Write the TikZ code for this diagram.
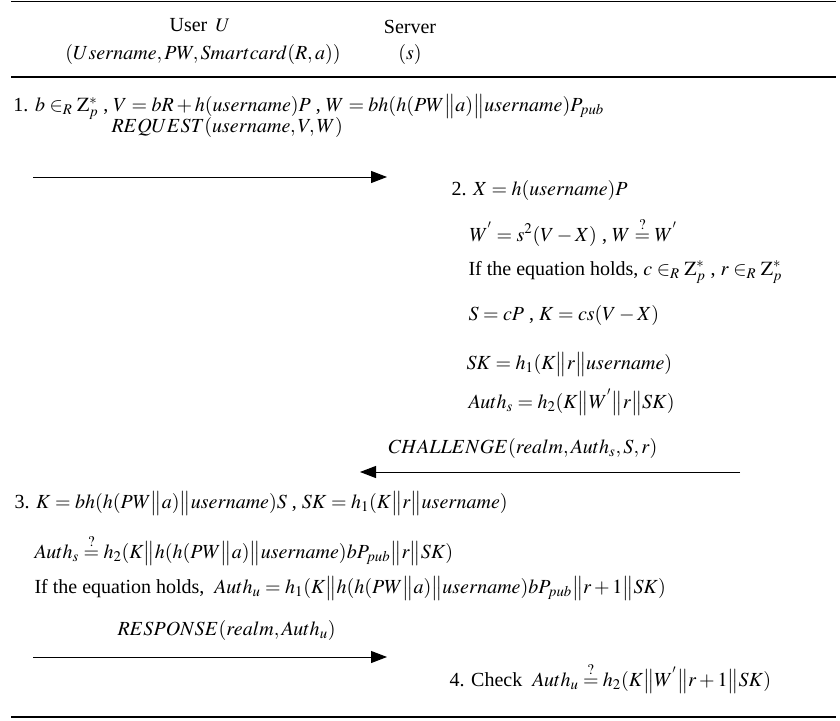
\documentclass[tikz,border=0pt]{standalone}
\usepackage{mathptmx}
\usepackage{fontspec}
\setmainfont{Liberation Serif}
\usetikzlibrary{arrows.meta}

\tikzset{every picture/.style={line width=0.75pt}}
\newcommand{\dbar}{{\big\|}}
\newcommand{\qeq}{\stackrel{?}{=}}

\begin{document}
\begin{tikzpicture}[x=0.75pt,y=0.75pt,yscale=-1,xscale=1,
  msg/.style={-{Triangle[length=12pt,width=9pt]}},
  rule/.style={line width=1.5pt},
  txt/.style={anchor=west,inner sep=0.75pt,font=\fontsize{15}{18}\selectfont},
  head/.style={inner sep=0.75pt,font=\fontsize{15}{18}\selectfont}]
\useasboundingbox (0,0) rectangle (840,721);

%Straight Lines [rules]
\draw [line width=0.75pt] (11,1.5) -- (836,1.5) ;
\draw [rule] (11,77) -- (836,77) ;
\draw [rule] (11,717) -- (836,717) ;

% Text Node
\node [head] (user) at (200,25) {User \,{\Large $U$}};
\node [head] (userdata) at (203,55) {$(Username,PW,Smartcard(R,a))$};
\node [head] (server) at (410,27) {Server};
\node [head] (serverdata) at (410,55) {$(s)$};

% Text Node
\node [txt] (step1) at (12,107) {1. $b\in_R \mathrm{Z}_p^{*}$ , $V=bR+h(username)P$ , $W=bh(h(PW\dbar a)\dbar username)P_{pub}$};
\node [txt] (req) at (110,127) {$REQUEST(username,V,W)$};

%Straight Lines [request]
\coordinate (reqA) at (33,177);
\coordinate (reqB) at (387,177);
\draw [msg] (reqA) -- (reqB) ;

% Text Node
\node [txt] (step2a) at (450,190) {2. $X=h(username)P$};
\node [txt] (step2b) at (468,232) {$W^{'}=s^2(V-X)$ , $W\qeq W^{'}$};
\node [txt] (step2c) at (467,272) {If the equation holds, $c\in_R \mathrm{Z}_p^{*}$ , $r\in_R \mathrm{Z}_p^{*}$};
\node [txt] (step2d) at (467,315) {$S=cP$ , $K=cs(V-X)$};
\node [txt] (step2e) at (465,364) {$SK=h_1(K\dbar r\dbar username)$};
\node [txt] (step2f) at (467,402) {$Auth_s=h_2(K\dbar W^{'}\dbar r\dbar SK)$};
\node [txt] (chal) at (387,448) {$CHALLENGE(realm,Auth_s,S,r)$};

%Straight Lines [challenge]
\coordinate (chalA) at (740,472);
\coordinate (chalB) at (360,472);
\draw [msg] (chalA) -- (chalB) ;

% Text Node
\node [txt] (step3a) at (13,503) {3. $K=bh(h(PW\dbar a)\dbar username)S$ , $SK=h_1(K\dbar r\dbar username)$};
\node [txt] (step3b) at (33,550) {$Auth_s\qeq h_2(K\dbar h(h(PW\dbar a)\dbar username)bP_{pub}\dbar r\dbar SK)$};
\node [txt] (step3c) at (33,588) {If the equation holds, \ $Auth_u=h_1(K\dbar h(h(PW\dbar a)\dbar username)bP_{pub}\dbar r+1\dbar SK)$};
\node [txt] (resp) at (116,630) {$RESPONSE(realm,Auth_u)$};

%Straight Lines [response]
\coordinate (respA) at (33,657);
\coordinate (respB) at (387,657);
\draw [msg] (respA) -- (respB) ;

% Text Node
\node [txt] (step4) at (448,678) {4. Check \ $Auth_u\qeq h_2(K\dbar W^{'}\dbar r+1\dbar SK)$};

\end{tikzpicture}
\end{document}
